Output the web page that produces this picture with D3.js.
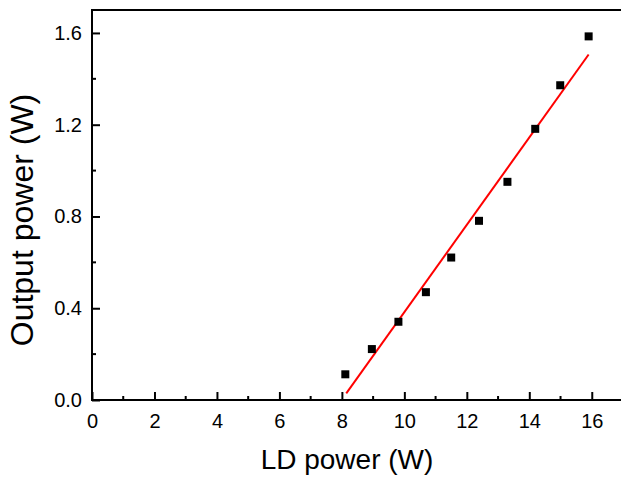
<!DOCTYPE html>
<html>
<head>
<meta charset="utf-8">
<script src="https://cdn.jsdelivr.net/npm/d3@7"></script>
<style>
  body { margin: 0; background: #fff; }
  svg text { font-family: Arial, "Liberation Sans", sans-serif; fill: #000; }
</style>
</head>
<body>
<div id="chart"></div>
<script>
// measured points
var ldPower = [8.11, 8.96, 9.81, 10.69, 11.50, 12.39, 13.30, 14.19, 14.99, 15.90];
var outPower = [0.112, 0.222, 0.341, 0.470, 0.621, 0.781, 0.951, 1.182, 1.372, 1.585];

// linear fit
var fitX = [8.14, 15.90];
var fitY = [0.029, 1.506];

var xTicks = [0, 2, 4, 6, 8, 10, 12, 14, 16];
var xMinor = [1, 3, 5, 7, 9, 11, 13, 15];
var yTicks = [0, 0.4, 0.8, 1.2, 1.6];
var yMinor = [0.2, 0.6, 1.0, 1.4];

var W = 621, H = 478;
var margin = { top: 10, right: -2, bottom: 78, left: 92 };
var width = W - margin.left - margin.right;
var height = H - margin.top - margin.bottom;

var svg = d3.select("#chart").append("svg")
    .attr("width", W)
    .attr("height", H)
    .append("g")
    .attr("transform", "translate(" + margin.left + "," + margin.top + ")");

var x = d3.scaleLinear().domain([0, 17]).range([0, width]);
var y = d3.scaleLinear().domain([0, 1.7]).range([height, 0]);

// frame
svg.append("rect")
    .attr("x", 0).attr("y", 0)
    .attr("width", width).attr("height", height)
    .attr("fill", "none")
    .attr("stroke", "#000")
    .attr("stroke-width", 2);

// x axis (ticks inward)
var xAxis = svg.append("g")
    .attr("transform", "translate(0," + height + ")")
    .call(d3.axisBottom(x).tickValues(xTicks).tickSizeInner(-8).tickSizeOuter(0).tickPadding(14)
        .tickFormat(d3.format("d")));
xAxis.select(".domain").remove();
xAxis.selectAll("line").attr("stroke-width", 2);
xAxis.selectAll("text").style("font-size", "20px");

svg.append("g")
    .attr("transform", "translate(0," + height + ")")
    .selectAll("line").data(xMinor).enter().append("line")
    .attr("x1", function(d) { return x(d); })
    .attr("x2", function(d) { return x(d); })
    .attr("y1", 0).attr("y2", -4)
    .attr("stroke", "#000").attr("stroke-width", 2);

// y axis
var yAxis = svg.append("g")
    .call(d3.axisLeft(y).tickValues(yTicks).tickSizeInner(-8).tickSizeOuter(0).tickPadding(10)
        .tickFormat(d3.format(".1f")));
yAxis.select(".domain").remove();
yAxis.selectAll("line").attr("stroke-width", 2);
yAxis.selectAll("text").style("font-size", "20px");

svg.append("g")
    .selectAll("line").data(yMinor).enter().append("line")
    .attr("x1", 0).attr("x2", 4)
    .attr("y1", function(d) { return y(d); })
    .attr("y2", function(d) { return y(d); })
    .attr("stroke", "#000").attr("stroke-width", 2);

// fit line
var line = d3.line()
    .x(function(d) { return x(d[0]); })
    .y(function(d) { return y(d[1]); });
svg.append("path")
    .datum(d3.zip(fitX, fitY))
    .attr("d", line)
    .attr("fill", "none")
    .attr("stroke", "#ff0000")
    .attr("stroke-width", 2);

// square markers
var ms = 8;
svg.selectAll(".pt")
    .data(d3.zip(ldPower, outPower))
    .enter().append("rect")
    .attr("class", "pt")
    .attr("x", function(d) { return x(d[0]) - ms / 2; })
    .attr("y", function(d) { return y(d[1]) - ms / 2; })
    .attr("width", ms).attr("height", ms)
    .attr("fill", "#000");

// axis titles
svg.append("text")
    .attr("x", 347 - margin.left)
    .attr("y", 469 - margin.top)
    .style("text-anchor", "middle")
    .style("font-size", "28px")
    .text("LD power (W)");

svg.append("text")
    .attr("transform", "translate(" + (33 - margin.left) + "," + (220 - margin.top) + ") rotate(-90)")
    .style("text-anchor", "middle")
    .style("font-size", "32px")
    .text("Output power (W)");
</script>
</body>
</html>
